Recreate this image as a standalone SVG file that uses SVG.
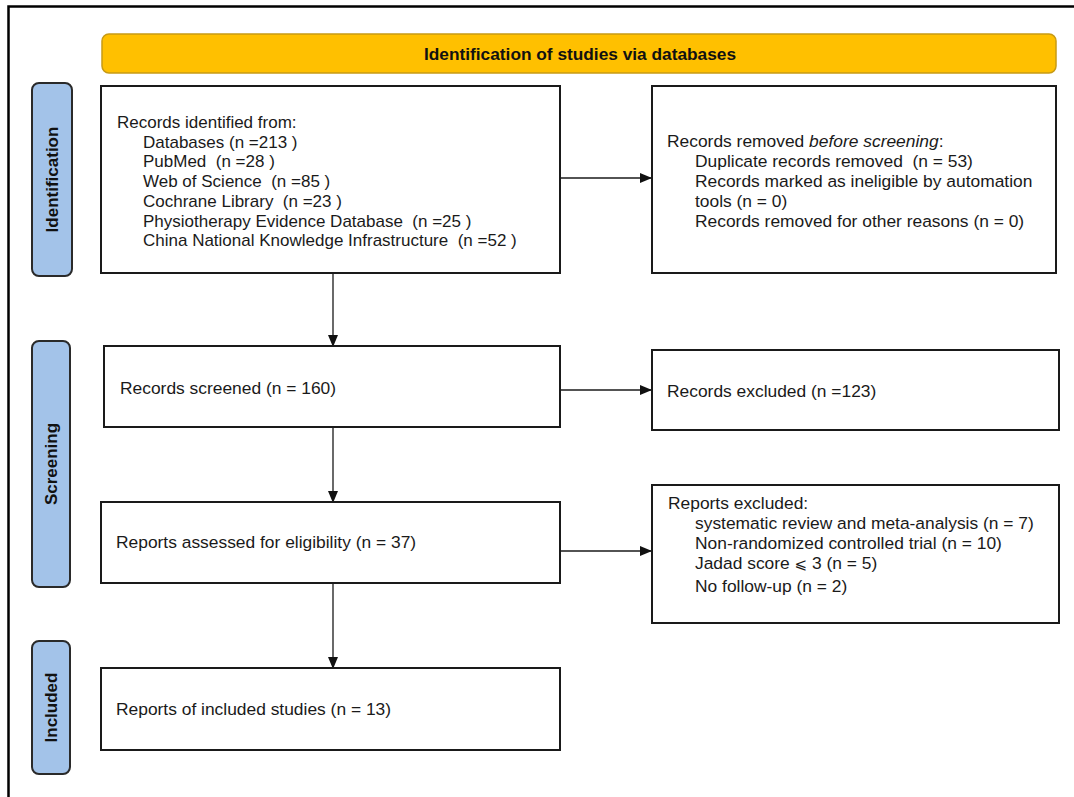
<svg xmlns="http://www.w3.org/2000/svg" width="1074" height="797" viewBox="0 0 1074 797">
<style>
.box{fill:#fff;stroke:#1a1a1a;stroke-width:2}
.side{fill:#a3c3e9;stroke:#2a2a2a;stroke-width:2}
.t{font-family:"Liberation Sans",Arial,sans-serif;font-size:17px;fill:#1a1a1a;white-space:pre}
.r{font-family:"Liberation Sans",Arial,sans-serif;font-size:17.4px;fill:#1a1a1a;white-space:pre}
.sl{font-family:"Liberation Sans",Arial,sans-serif;font-size:17px;font-weight:bold;fill:#111}
.ed{stroke:#1a1a1a;stroke-width:1.3;fill:none;marker-end:url(#ah)}
</style>
<defs>
<marker id="ah" markerWidth="12" markerHeight="10" refX="11" refY="5" orient="auto" markerUnits="userSpaceOnUse">
<path d="M0,0 L12,5 L0,10 Z" fill="#111"/>
</marker>
</defs>
<rect width="1074" height="797" fill="#fff"/>
<path d="M8.5,797 V6.5 H1074" fill="none" stroke="#000" stroke-width="2.5"/>

<g id="banner">
<rect x="102" y="34" width="954" height="39" rx="7" fill="#ffc000" stroke="#c79a14" stroke-width="1.5"/>
<text x="580" y="60" text-anchor="middle" font-family="'Liberation Sans',Arial,sans-serif" font-size="17" font-weight="bold" fill="#111" textLength="312" lengthAdjust="spacingAndGlyphs">Identification of studies via databases</text>
</g>

<g id="side-identification">
<rect class="side" x="32" y="83" width="40" height="193" rx="7"/>
<text class="sl" transform="translate(58,179.5) rotate(-90)" text-anchor="middle">Identification</text>
</g>
<g id="side-screening">
<rect class="side" x="32" y="341" width="38" height="246" rx="7"/>
<text class="sl" transform="translate(57,464) rotate(-90)" text-anchor="middle">Screening</text>
</g>
<g id="side-included">
<rect class="side" x="32" y="641" width="38" height="133" rx="7"/>
<text class="sl" transform="translate(57,707.5) rotate(-90)" text-anchor="middle">Included</text>
</g>

<g id="connectors">
<line class="ed" x1="333" y1="273" x2="333" y2="346"/>
<line class="ed" x1="333" y1="427" x2="333" y2="502"/>
<line class="ed" x1="333" y1="583" x2="333" y2="668"/>
<line class="ed" x1="561" y1="178" x2="651" y2="178"/>
<line class="ed" x1="561" y1="390" x2="651" y2="390"/>
<line class="ed" x1="561" y1="551" x2="651" y2="551"/>
</g>

<g id="records-identified">
<rect class="box" x="101" y="86" width="459" height="187"/>
<text class="t" x="117" y="128">Records identified from:</text>
<text class="t" x="143" y="147.5">Databases (n =213 )</text>
<text class="t" x="143" y="167">PubMed  (n =28 )</text>
<text class="t" x="143" y="187">Web of Science  (n =85 )</text>
<text class="t" x="143" y="206.5">Cochrane Library  (n =23 )</text>
<text class="t" x="143" y="226.5">Physiotherapy Evidence Database  (n =25 )</text>
<text class="t" x="143" y="246">China National Knowledge Infrastructure  (n =52 )</text>
</g>

<g id="records-removed">
<rect class="box" x="652" y="86" width="404" height="187"/>
<text class="r" x="667" y="147">Records removed <tspan font-style="italic">before screening</tspan>:</text>
<text class="r" x="695" y="167">Duplicate records removed  (n = 53)</text>
<text class="r" x="695" y="187">Records marked as ineligible by automation</text>
<text class="r" x="695" y="207">tools (n = 0)</text>
<text class="r" x="695" y="227">Records removed for other reasons (n = 0)</text>
</g>

<g id="records-screened">
<rect class="box" x="104" y="346" width="456" height="81"/>
<text class="r" x="120" y="394">Records screened (n = 160)</text>
</g>

<g id="records-excluded">
<rect class="box" x="652" y="350" width="407" height="80"/>
<text class="r" x="667" y="397">Records excluded (n =123)</text>
</g>

<g id="reports-assessed">
<rect class="box" x="101" y="502" width="459" height="81"/>
<text class="r" x="116" y="548">Reports assessed for eligibility (n = 37)</text>
</g>

<g id="reports-excluded">
<rect class="box" x="652" y="485" width="407" height="138"/>
<text class="r" x="668" y="509">Reports excluded:</text>
<text class="r" x="695" y="529">systematic review and meta-analysis (n = 7)</text>
<text class="r" x="695" y="549">Non-randomized controlled trial (n = 10)</text>
<text class="r" x="695" y="569">Jadad score <tspan font-family="'DejaVu Sans',sans-serif" font-size="15">⩽</tspan> 3 (n = 5)</text>
<text class="r" x="695" y="592">No follow-up (n = 2)</text>
</g>

<g id="included">
<rect class="box" x="101" y="668" width="459" height="82"/>
<text class="r" x="116" y="714.5">Reports of included studies (n = 13)</text>
</g>
</svg>
